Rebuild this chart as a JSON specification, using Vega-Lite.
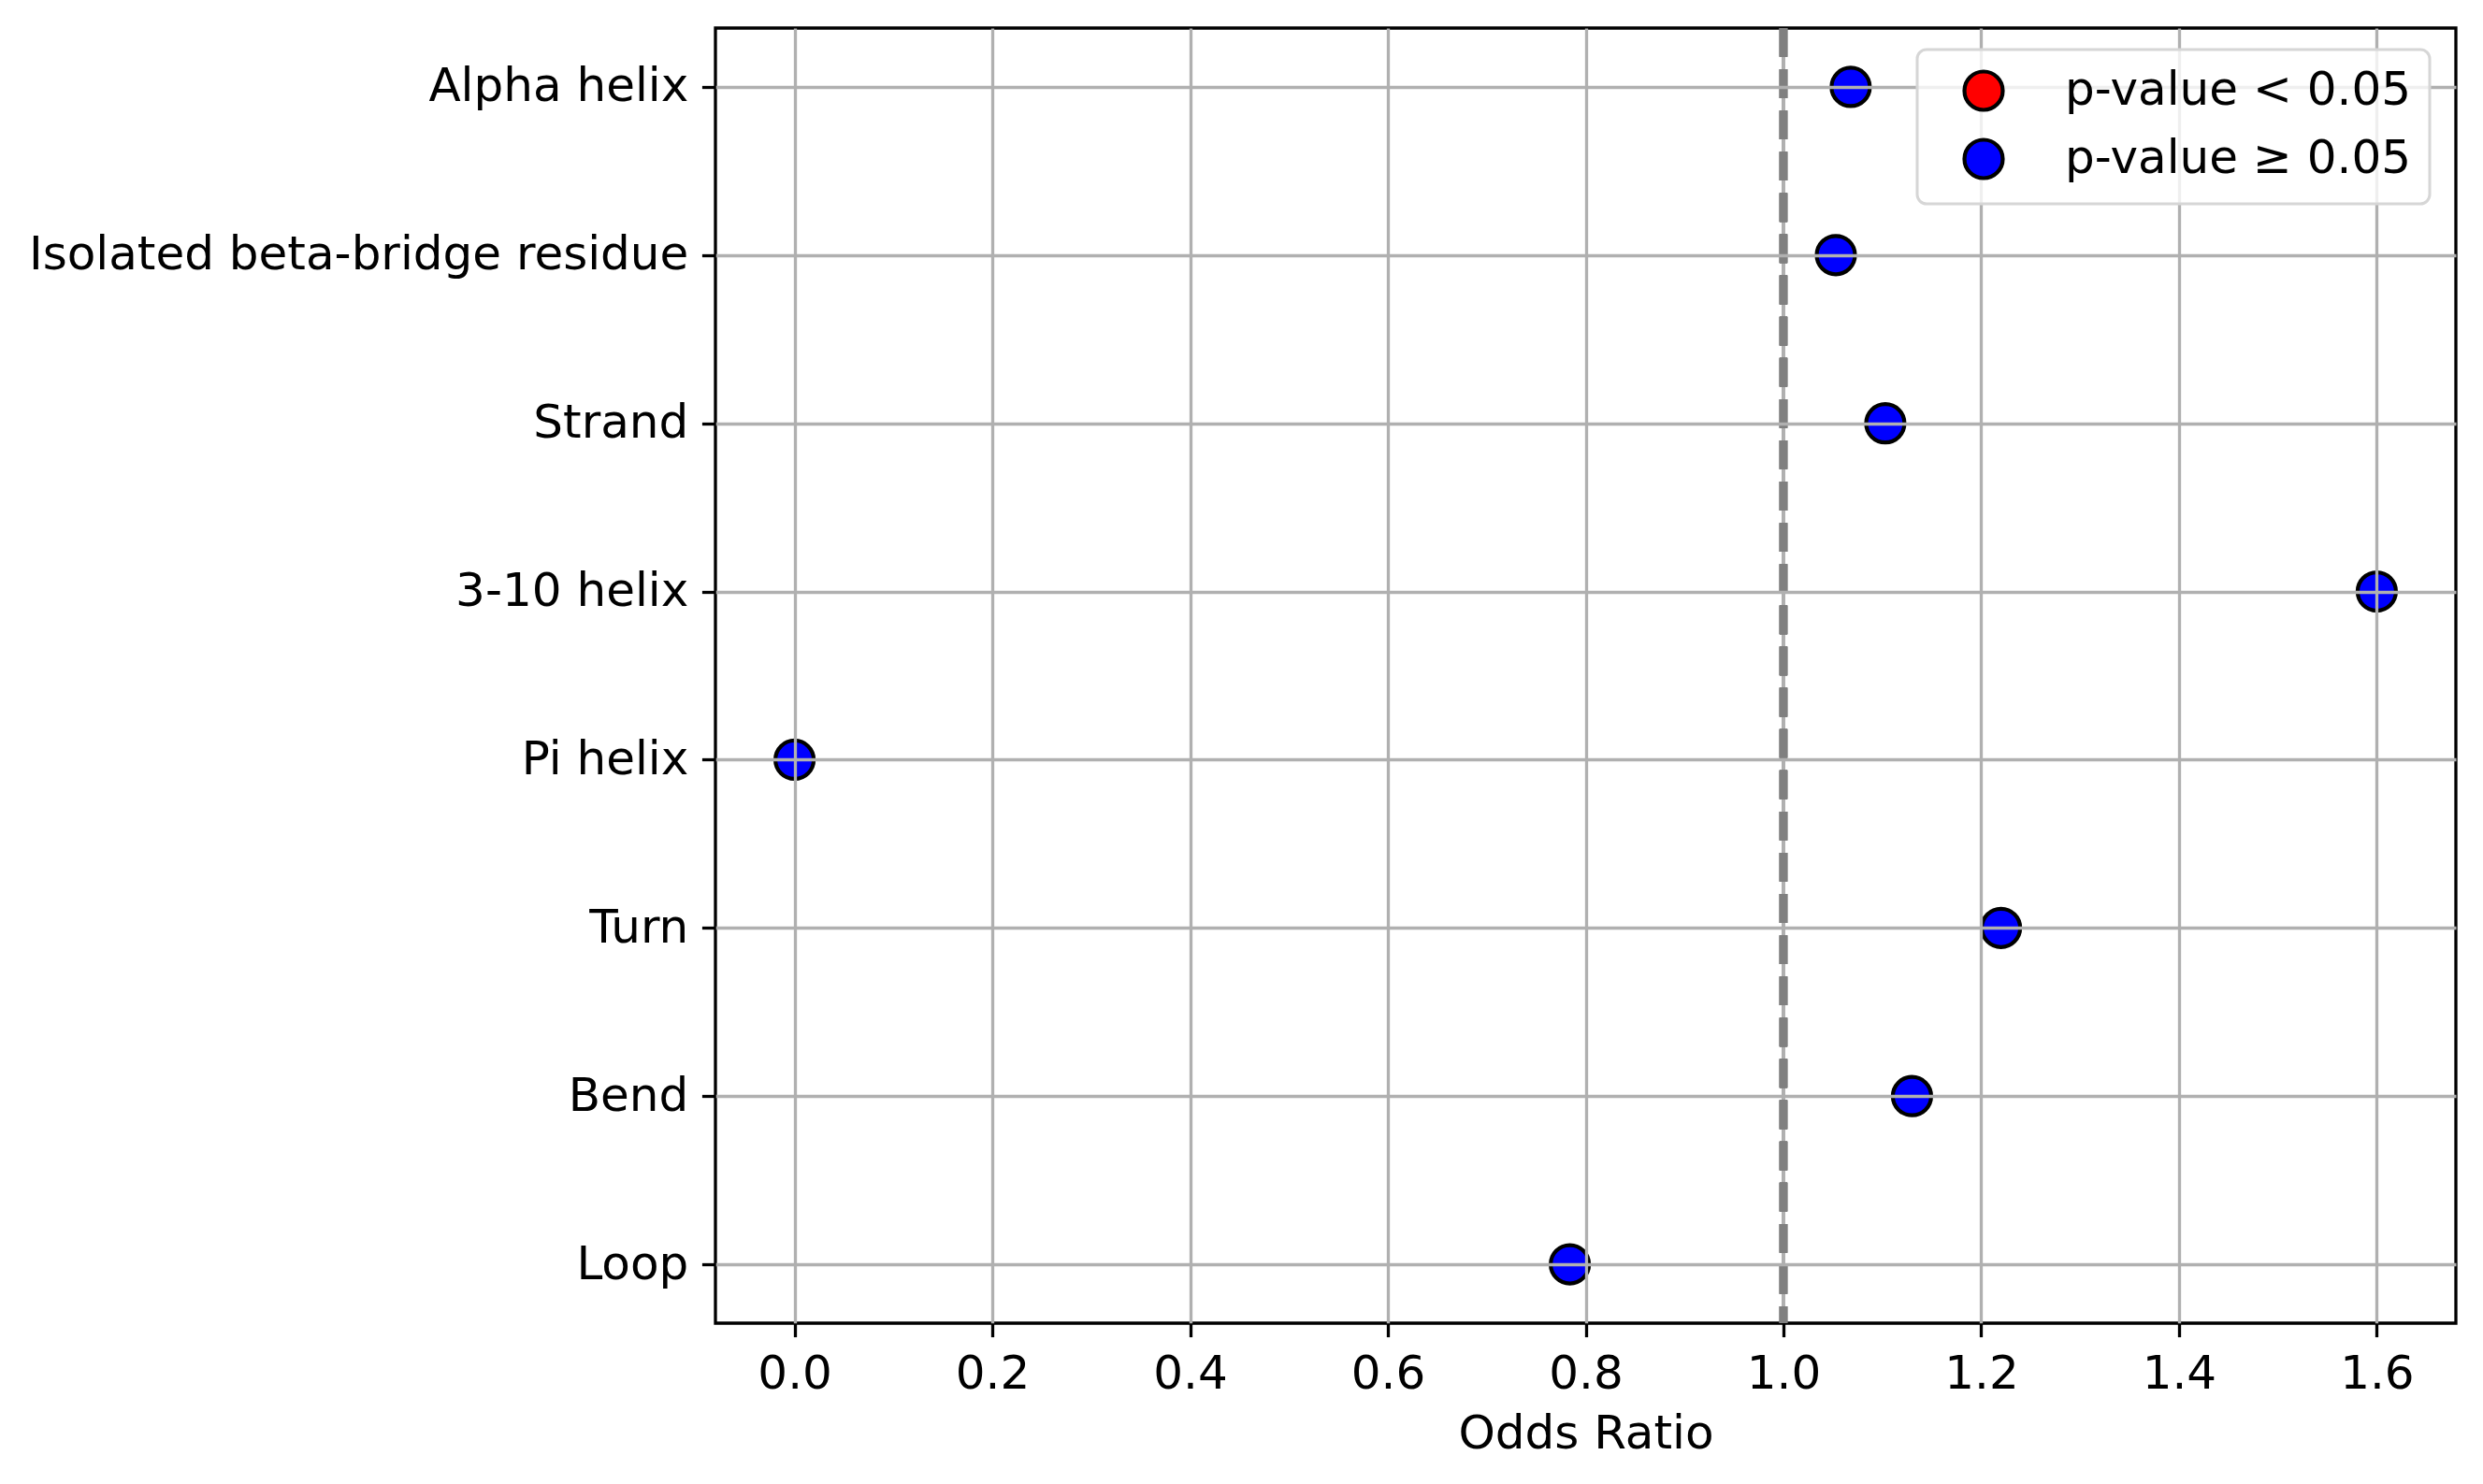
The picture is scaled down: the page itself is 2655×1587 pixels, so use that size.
{
  "$schema": "https://vega.github.io/schema/vega-lite/v6.json",
  "autosize": {"type": "none"},
  "padding": {"left": 765, "top": 30, "right": 29, "bottom": 172},
  "width": 1861,
  "height": 1385,
  "background": "white",
  "data": {
    "values": [
      {"structure": "Alpha helix", "odds_ratio": 1.068, "group": "p-value ≥ 0.05"},
      {"structure": "Isolated beta-bridge residue", "odds_ratio": 1.053, "group": "p-value ≥ 0.05"},
      {"structure": "Strand", "odds_ratio": 1.103, "group": "p-value ≥ 0.05"},
      {"structure": "3-10 helix", "odds_ratio": 1.6, "group": "p-value ≥ 0.05"},
      {"structure": "Pi helix", "odds_ratio": 0.0, "group": "p-value ≥ 0.05"},
      {"structure": "Turn", "odds_ratio": 1.22, "group": "p-value ≥ 0.05"},
      {"structure": "Bend", "odds_ratio": 1.13, "group": "p-value ≥ 0.05"},
      {"structure": "Loop", "odds_ratio": 0.784, "group": "p-value ≥ 0.05"}
    ]
  },
  "layer": [
    {
      "mark": {"type": "circle", "size": 1681, "opacity": 1, "stroke": "black", "strokeWidth": 4.2},
      "encoding": {
        "x": {
          "field": "odds_ratio",
          "type": "quantitative",
          "title": "Odds Ratio",
          "scale": {"domain": [-0.08, 1.68], "nice": false, "zero": false},
          "axis": {
            "values": [0, 0.2, 0.4, 0.6, 0.8, 1.0, 1.2, 1.4, 1.6],
            "format": ".1f",
            "titlePadding": 14,
            "gridOpacity": {"condition": {"test": "datum.value === 1", "value": 0}, "value": 1},
            "zindex": 1
          }
        },
        "y": {
          "field": "structure",
          "type": "ordinal",
          "title": null,
          "sort": ["Alpha helix", "Isolated beta-bridge residue", "Strand", "3-10 helix", "Pi helix", "Turn", "Bend", "Loop"],
          "scale": {"type": "point", "padding": 0.35},
          "axis": {"labelLimit": 1000, "zindex": 1}
        },
        "color": {
          "field": "group",
          "type": "nominal",
          "scale": {"domain": ["p-value < 0.05", "p-value ≥ 0.05"], "range": ["#ff0000", "#0000ff"]},
          "legend": {
            "title": null,
            "orient": "none",
            "legendX": 1285,
            "legendY": 23,
            "symbolType": "circle",
            "symbolSize": 1681,
            "symbolStrokeColor": "black",
            "symbolStrokeWidth": 4.2,
            "symbolOpacity": 1,
            "symbolOffset": 27,
            "labelOffset": 62,
            "labelFontSize": 50,
            "labelFont": "DejaVu Sans",
            "labelColor": "black",
            "labelLimit": 1000,
            "rowPadding": 15,
            "padding": 19,
            "strokeColor": "#d6d6d6",
            "cornerRadius": 10,
            "fillColor": "rgba(255,255,255,0.8)",
            "zindex": 3
          }
        }
      }
    },
    {
      "mark": {"type": "rule", "color": "#b0b0b0", "strokeWidth": 3.3},
      "encoding": {"x": {"datum": 1}}
    },
    {
      "mark": {"type": "rule", "color": "gray", "strokeWidth": 8.3, "strokeDash": [30.8, 13.3]},
      "encoding": {"x": {"datum": 1}}
    }
  ],
  "config": {
    "font": "DejaVu Sans",
    "view": {"stroke": "black", "strokeWidth": 3.3},
    "legend": {"strokeWidth": 3},
    "axis": {
      "labelFont": "DejaVu Sans",
      "labelFontSize": 50,
      "labelColor": "black",
      "titleFont": "DejaVu Sans",
      "titleFontSize": 50,
      "titleFontWeight": "normal",
      "titleColor": "black",
      "domain": false,
      "ticks": true,
      "tickColor": "black",
      "tickWidth": 3.3,
      "tickSize": 14.6,
      "labelPadding": 14.6,
      "grid": true,
      "gridColor": "#b0b0b0",
      "gridWidth": 3.3
    }
  }
}
